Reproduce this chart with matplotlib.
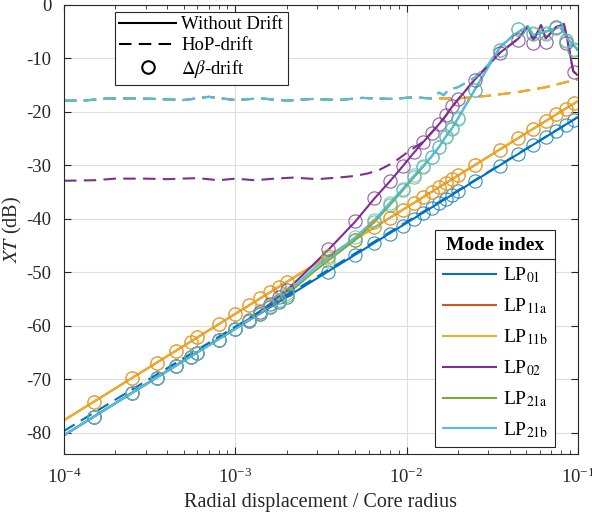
import matplotlib
matplotlib.use('Agg')
import matplotlib.pyplot as plt
from matplotlib.lines import Line2D
import matplotlib.ticker as mticker

plt.rcParams['font.family'] = ['Liberation Serif', 'DejaVu Serif']
plt.rcParams['mathtext.fontset'] = 'stix'
plt.rcParams['axes.unicode_minus'] = False

# ---- data ----
mode_names = ['LP$_{\\mathrm{01}}$', 'LP$_{\\mathrm{11a}}$', 'LP$_{\\mathrm{11b}}$',
              'LP$_{\\mathrm{02}}$', 'LP$_{\\mathrm{21a}}$', 'LP$_{\\mathrm{21b}}$']
mode_colors = ['#0072BD', '#D95319', '#EDB120', '#7E2F8E', '#77AC30', '#4DBEEE']

# without drift (solid)
x_lin = [1e-4, 1e-3, 1e-2, 1e-1]
lp01_y = [-80.5, -60.6, -40.8, -21.0]
lp11_y = [-77.7, -57.8, -37.9, -18.0]

x02 = [1e-4, 1e-3, 1.5e-3, 2e-3, 2.75e-3, 3.5e-3, 5e-3, 6.5e-3, 8e-3, 9.5e-3, 1.1e-2,
       1.25e-2, 1.4e-2, 1.55e-2, 1.7e-2, 1.85e-2, 2e-2, 2.5e-2, 3.5e-2, 4.5e-2, 5.1e-2,
       5.5e-2, 6.1e-2, 6.5e-2, 7.5e-2, 8.3e-2, 8.7e-2, 9.4e-2, 1e-1]
lp02_y = [-80.5, -60.5, -56.6, -53.4, -49.1, -45.8, -40.6, -36.2, -33.0, -30.2, -27.7,
          -25.7, -23.9, -22.3, -20.7, -19.0, -17.7, -14.0, -9.0, -6.3, -4.1,
          -6.6, -3.8, -6.3, -4.1, -3.6, -6.6, -12.4, -13.2]

x21 = [1e-4, 1e-3, 1.5e-3, 2e-3, 2.9e-3, 3.5e-3, 5e-3, 6.5e-3, 8e-3, 9.5e-3, 1.1e-2,
       1.25e-2, 1.4e-2, 1.55e-2, 1.7e-2, 1.85e-2, 2e-2, 2.5e-2, 3.5e-2, 4.2e-2, 5.1e-2,
       5.5e-2, 6.5e-2, 7.9e-2, 8.8e-2, 9.8e-2, 1e-1]
lp21b_y = [-80.5, -60.6, -56.9, -53.8, -49.2, -47.3, -43.5, -40.2, -37.0, -34.4, -32.0,
           -30.1, -28.3, -26.5, -24.6, -23.0, -21.2, -15.9, -8.0, -5.7, -4.0,
           -5.7, -5.0, -4.1, -6.5, -8.1, -8.5]
lp21a_y = [-80.5, -60.6, -57.0, -54.2, -49.8, -47.8, -44.0, -40.6, -37.4, -34.7, -32.3,
           -30.3, -28.4, -26.6, -24.6, -23.0, -21.2, -15.9, -8.0, -5.7, -4.0,
           -5.7, -5.0, -4.1, -6.5, -8.1, -8.5]

# HoP-drift (dashed)
lp01_dash_y = [-79.7, -60.2, -40.6, -21.0]

x_flat = [1e-4, 1.3e-4, 1.8e-4, 2.5e-4, 3.5e-4, 5e-4, 7e-4, 1e-3, 1.4e-3, 2e-3, 2.8e-3,
          4e-3, 5.5e-3, 8e-3, 1.1e-2, 1.4e-2]
flat_y = [-17.9, -17.9, -17.5, -17.5, -17.6, -17.8, -17.2, -17.8, -17.5, -17.9, -17.6,
          -17.8, -17.4, -17.6, -17.3, -17.5]
x11_tail = [2e-2, 3e-2, 4.5e-2, 6.5e-2, 1e-1]
lp11_tail_y = [-17.5, -17.0, -16.3, -15.4, -13.9]
x21_tail = [1.55e-2, 1.65e-2, 1.75e-2, 2e-2, 2.5e-2, 3e-2, 3.5e-2, 4.2e-2, 5.1e-2,
            5.5e-2, 6.5e-2, 7.9e-2, 8.8e-2, 9.8e-2, 1e-1]
lp21_tail_y = [-16.4, -16.9, -15.9, -15.4, -13.6, -11.2, -8.0, -5.7, -4.0,
               -5.7, -5.0, -4.1, -6.5, -8.1, -8.5]

x02_dash = [1e-4, 1.5e-4, 2e-4, 3e-4, 4e-4, 6e-4, 8e-4, 1e-3, 1.3e-3, 1.7e-3, 2.2e-3,
            3e-3, 4e-3, 5e-3, 6e-3, 7e-3, 8.4e-3, 1e-2, 1.1e-2, 1.25e-2, 1.4e-2, 1.55e-2,
            1.7e-2, 1.85e-2, 2e-2, 2.5e-2, 3.5e-2, 4.5e-2, 5.1e-2, 5.5e-2, 6.1e-2, 6.5e-2,
            7.5e-2, 8.3e-2, 8.7e-2, 9.4e-2, 1e-1]
lp02_dash_y = [-32.9, -32.8, -32.5, -32.5, -32.6, -32.4, -32.8, -32.5, -32.8, -32.5, -32.3,
               -32.6, -32.3, -32.0, -31.5, -30.8, -29.5, -27.7, -26.8, -25.6, -23.9, -22.3,
               -20.7, -19.0, -17.7, -14.0, -9.0, -6.3, -4.1, -6.6, -3.8, -6.3,
               -4.1, -3.6, -6.6, -12.4, -13.2]

# delta-beta drift (circles)
mx = [1.5e-4, 2.5e-4, 3.5e-4, 4.5e-4, 5.5e-4, 6e-4, 8e-4, 1e-3, 1.2e-3, 1.4e-3, 1.6e-3,
      1.8e-3, 2e-3, 3.5e-3, 5e-3, 6.5e-3, 8e-3, 9.5e-3, 1.1e-2, 1.25e-2, 1.4e-2, 1.55e-2,
      1.7e-2, 1.85e-2, 2e-2, 2.5e-2, 3.5e-2, 4.5e-2, 5.5e-2, 6.5e-2, 7.5e-2, 8.5e-2, 9.5e-2]
lp01_c = [-77.0, -72.6, -69.7, -67.5, -65.8, -65.1, -62.6, -60.7, -59.1, -57.8, -56.6,
          -55.6, -54.7, -49.9, -46.8, -44.6, -42.8, -41.3, -40.0, -38.9, -37.9, -37.1,
          -36.3, -35.5, -34.9, -33.0, -30.1, -27.9, -26.2, -24.7, -23.5, -22.4, -21.5]
lp11a_c = [-74.2, -69.8, -66.9, -64.7, -63.0, -62.2, -59.7, -57.8, -56.2, -54.9, -53.7,
           -52.7, -51.8, -47.0, -43.9, -41.6, -39.8, -38.3, -37.1, -36.0, -35.0, -34.1,
           -33.3, -32.6, -31.9, -30.0, -27.1, -24.9, -23.2, -21.7, -20.5, -19.4, -18.4]
lp11b_c = [-74.2, -69.8, -66.9, -64.7, -63.0, -62.2, -59.7, -57.8, -56.2, -54.9, -53.7,
           -52.7, -51.8, -47.0, -43.9, -41.6, -39.8, -38.3, -37.1, -36.0, -35.0, -34.1,
           -33.3, -32.6, -31.9, -30.0, -27.1, -24.9, -23.2, -21.7, -20.5, -19.4, -18.4]
lp02_c = [-77.0, -72.6, -69.7, -67.5, -65.8, -65.1, -62.6, -60.6, -59.0, -57.4, -55.9,
          -54.6, -53.4, -45.7, -40.5, -36.2, -33.0, -30.1, -27.6, -25.6, -23.9, -22.3,
          -20.6, -18.9, -17.6, -14.0, -9.0, -6.6, -7.2, -6.9, -4.1, -7.2, -12.6]
lp21a_c = [-77.0, -72.6, -69.7, -67.5, -65.8, -65.1, -62.6, -60.7, -59.1, -57.8, -56.5,
           -55.4, -54.2, -47.9, -44.0, -40.6, -37.4, -34.7, -32.2, -30.3, -28.5, -26.6,
           -24.7, -23.2, -21.3, -16.0, -8.5, -4.6, -5.4, -5.4, -4.3, -6.7, -8.4]
lp21b_c = [-77.0, -72.6, -69.7, -67.5, -65.8, -65.1, -62.6, -60.7, -59.1, -57.7, -56.4,
           -55.2, -53.8, -47.3, -43.5, -40.2, -37.0, -34.4, -31.9, -30.2, -28.4, -26.5,
           -24.6, -23.1, -21.2, -15.9, -8.4, -4.5, -5.3, -5.3, -4.2, -6.6, -8.3]

solid = [(x_lin, lp01_y), (x_lin, lp11_y), (x_lin, lp11_y),
         (x02, lp02_y), (x21, lp21a_y), (x21, lp21b_y)]
dashed = [(x_lin, lp01_dash_y),
          (x_flat + x11_tail, flat_y + lp11_tail_y),
          (x_flat + x11_tail, flat_y + lp11_tail_y),
          (x02_dash, lp02_dash_y),
          (x_flat + x21_tail, flat_y + lp21_tail_y),
          (x_flat + x21_tail, flat_y + lp21_tail_y)]
circles = [lp01_c, lp11a_c, lp11b_c, lp02_c, lp21a_c, lp21b_c]

# ---- figure ----
fig = plt.figure(figsize=(5.92, 5.18), dpi=100)
ax = fig.add_axes([0.108, 0.1236, 0.868, 0.867])

mode_handles = []
for (xs, ys), c in zip(solid, mode_colors):
    h, = ax.plot(xs, ys, color=c, lw=1.5, solid_capstyle='butt')
    mode_handles.append(h)
for (xs, ys), c in zip(dashed, mode_colors):
    ax.plot(xs, ys, color=c, lw=1.5, ls=(0, (6, 3.5)))
for ys, c in zip(circles, mode_colors):
    ax.plot(mx, ys, ls='none', marker='o', ms=9.5, mfc='none', mec=c, mew=0.8, alpha=0.8)

ax.set_xscale('log')
ax.set_xlim(1e-4, 1e-1)
ax.set_ylim(-84, 0)
ax.set_yticks(range(-80, 1, 10))
ax.xaxis.set_major_locator(mticker.LogLocator(base=10, numticks=10))
ax.xaxis.set_minor_locator(mticker.LogLocator(base=10, subs=range(2, 10), numticks=20))
ax.xaxis.set_minor_formatter(mticker.NullFormatter())

ax.grid(True, which='major', color='#dedede', lw=0.8)
ax.set_axisbelow(True)
ax.tick_params(which='both', direction='in', top=True, right=True, colors='#262626',
               labelsize=13.5, labelcolor='#262626')
ax.tick_params(which='major', length=5, width=0.8)
ax.tick_params(axis='y', pad=9)
ax.tick_params(axis='x', pad=10)
ax.tick_params(which='minor', length=3, width=0.6)
for sp in ax.spines.values():
    sp.set_color('#262626')
    sp.set_linewidth(0.8)

ax.set_xlabel('Radial displacement / Core radius', fontsize=14.5, color='#262626', labelpad=4)
ax.set_ylabel('$\\mathit{XT}$ (dB)', fontsize=14.5, color='#262626', labelpad=2)

# drift-type legend
style_handles = [Line2D([], [], color='k', lw=1.5),
                 Line2D([], [], color='k', lw=1.5, ls=(0, (6, 3.5))),
                 Line2D([], [], color='k', ls='none', marker='o', ms=9, mfc='none', mew=1.5)]
leg1 = ax.legend(style_handles, ['Without Drift', 'HoP-drift', '$\\Delta\\beta$-drift'],
                 loc='upper left', bbox_to_anchor=(0.099, 0.985), borderaxespad=0,
                 fontsize=13.5, handlelength=3.0, handletextpad=0.3, labelspacing=0.2,
                 borderpad=0.25, fancybox=False, framealpha=1, edgecolor='#262626')
leg1.get_frame().set_linewidth(0.8)
ax.add_artist(leg1)

# mode legend
leg2 = ax.legend(mode_handles, mode_names, loc='lower left', bbox_to_anchor=(0.723, 0.016),
                 borderaxespad=0, fontsize=14, title='Mode index',
                 title_fontproperties={'weight': 'bold', 'size': 14},
                 handlelength=2.8, handletextpad=0.3, labelspacing=0.58, borderpad=0.35,
                 fancybox=False, framealpha=1, edgecolor='#262626')
leg2.get_frame().set_linewidth(0.8)

# separator under the legend title
fig.canvas.draw()
lb = leg2.get_frame().get_window_extent()
tb = leg2.get_title().get_window_extent()
ysep = (tb.y0 - 5) / fig.bbox.height
fig.add_artist(Line2D([lb.x0 / fig.bbox.width, lb.x1 / fig.bbox.width], [ysep, ysep],
                      color='#262626', lw=0.8, transform=fig.transFigure))

fig.savefig('out.png', dpi=100)
